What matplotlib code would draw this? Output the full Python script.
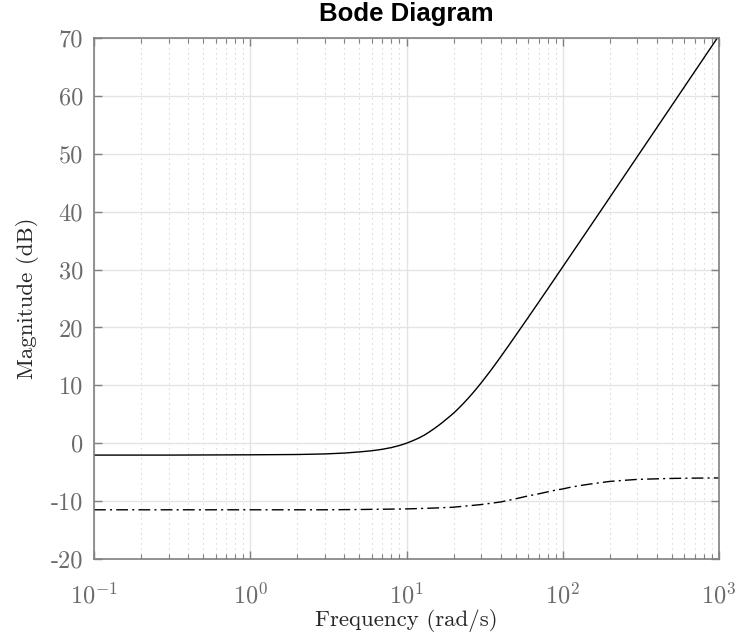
import matplotlib
matplotlib.use("Agg")
import matplotlib.pyplot as plt
from matplotlib.ticker import LogLocator, NullFormatter, FixedLocator

# Frequency samples (rad/s) and magnitudes (dB) of the two responses
freq_solid = [0.1, 0.3, 1, 2, 3, 4, 5, 6, 7, 8, 9, 10, 11, 12, 13, 14, 15, 16,
              17, 18, 19, 20, 21, 22, 23.5, 25, 26.5, 28, 30, 32, 34, 36, 40,
              45, 50, 55, 60, 70, 80, 90, 100, 130, 170, 220, 300, 400, 550,
              700, 1000]
mag_solid = [-2.05, -2.05, -2.0, -1.95, -1.85, -1.7, -1.5, -1.3, -1.05, -0.75,
             -0.4, 0.0, 0.45, 0.9, 1.4, 1.95, 2.5, 3.05, 3.6, 4.15, 4.68, 5.19,
             5.73, 6.27, 7.07, 7.86, 8.64, 9.4, 10.4, 11.37, 12.3, 13.19, 14.9,
             16.85, 18.62, 20.23, 21.7, 24.33, 26.62, 28.65, 30.47, 35.0,
             39.64, 44.12, 49.51, 54.5, 60.04, 64.23, 70.43]

freq_dash = [0.1, 1, 3, 5, 10, 15, 20, 30, 40, 50, 60, 70, 80, 90, 100, 110,
             130, 150, 200, 250, 300, 400, 500, 700, 1000]
mag_dash = [-11.5, -11.5, -11.5, -11.45, -11.35, -11.2, -11.05, -10.6, -10.15,
            -9.6, -9.1, -8.75, -8.4, -8.1, -7.9, -7.65, -7.3, -7.05, -6.6,
            -6.4, -6.25, -6.15, -6.08, -6.03, -6.0]

x_ticks = [0.1, 1, 10, 100, 1000]
x_tick_labels = [r"$10^{-1}$", r"$10^{0}$", r"$10^{1}$", r"$10^{2}$", r"$10^{3}$"]
y_ticks = [-20, -10, 0, 10, 20, 30, 40, 50, 60, 70]
y_tick_labels = ["-20", "-10", "0", "10", "20", "30", "40", "50", "60", "70"]

plt.rcParams["mathtext.fontset"] = "cm"
plt.rcParams["axes.formatter.use_mathtext"] = True

axis_gray = "#808080"
label_gray = "#6b6b6b"

fig = plt.figure(figsize=(7.4, 6.39), dpi=100)
ax = fig.add_axes([94 / 740, 80 / 639, 625 / 740, 521 / 639])

ax.plot(freq_solid, mag_solid, color="black", lw=1.0, solid_capstyle="butt")
ax.plot(freq_dash, mag_dash, color="black", lw=1.0, dashes=(8.5, 3, 1.5, 3))

ax.set_xscale("log")
ax.set_xlim(0.1, 1000)
ax.set_ylim(-20, 70)

ax.xaxis.set_major_locator(FixedLocator(x_ticks))
ax.set_xticklabels(x_tick_labels)
ax.xaxis.set_minor_locator(LogLocator(base=10, subs=range(2, 10), numticks=20))
ax.xaxis.set_minor_formatter(NullFormatter())
ax.set_yticks(y_ticks)
ax.set_yticklabels(y_tick_labels, family="cmr10")

ax.grid(True, which="major", color="#e4e4e4", lw=1.0, ls="-")
ax.grid(True, which="minor", axis="x", color="#cccccc", lw=0.8, ls=(0, (1, 3.5)))
ax.set_axisbelow(True)

for s in ax.spines.values():
    s.set_color(axis_gray)
    s.set_linewidth(1.2)

ax.tick_params(which="both", direction="in", top=True, right=True,
               color=axis_gray, labelcolor=label_gray)
ax.tick_params(which="major", length=6, width=1.0, labelsize=17.5)
ax.tick_params(axis="x", which="major", pad=17)
ax.tick_params(axis="y", which="major", pad=8)
ax.tick_params(which="minor", length=3.5, width=0.8)

ax.set_xlabel("Frequency (rad/s)", family="cmr10", fontsize=16.5,
              color="#262626", labelpad=1)
ax.set_ylabel("Magnitude (dB)", family="cmr10", fontsize=16.5,
              color="#262626", labelpad=8)
fig.text(0.5 * (94 + 719) / 740, 1 - 21 / 639, "Bode Diagram",
         family="Liberation Sans", fontweight="bold", fontsize=18.5,
         color="black", ha="center", va="baseline")

fig.savefig("out.png", dpi=100)
